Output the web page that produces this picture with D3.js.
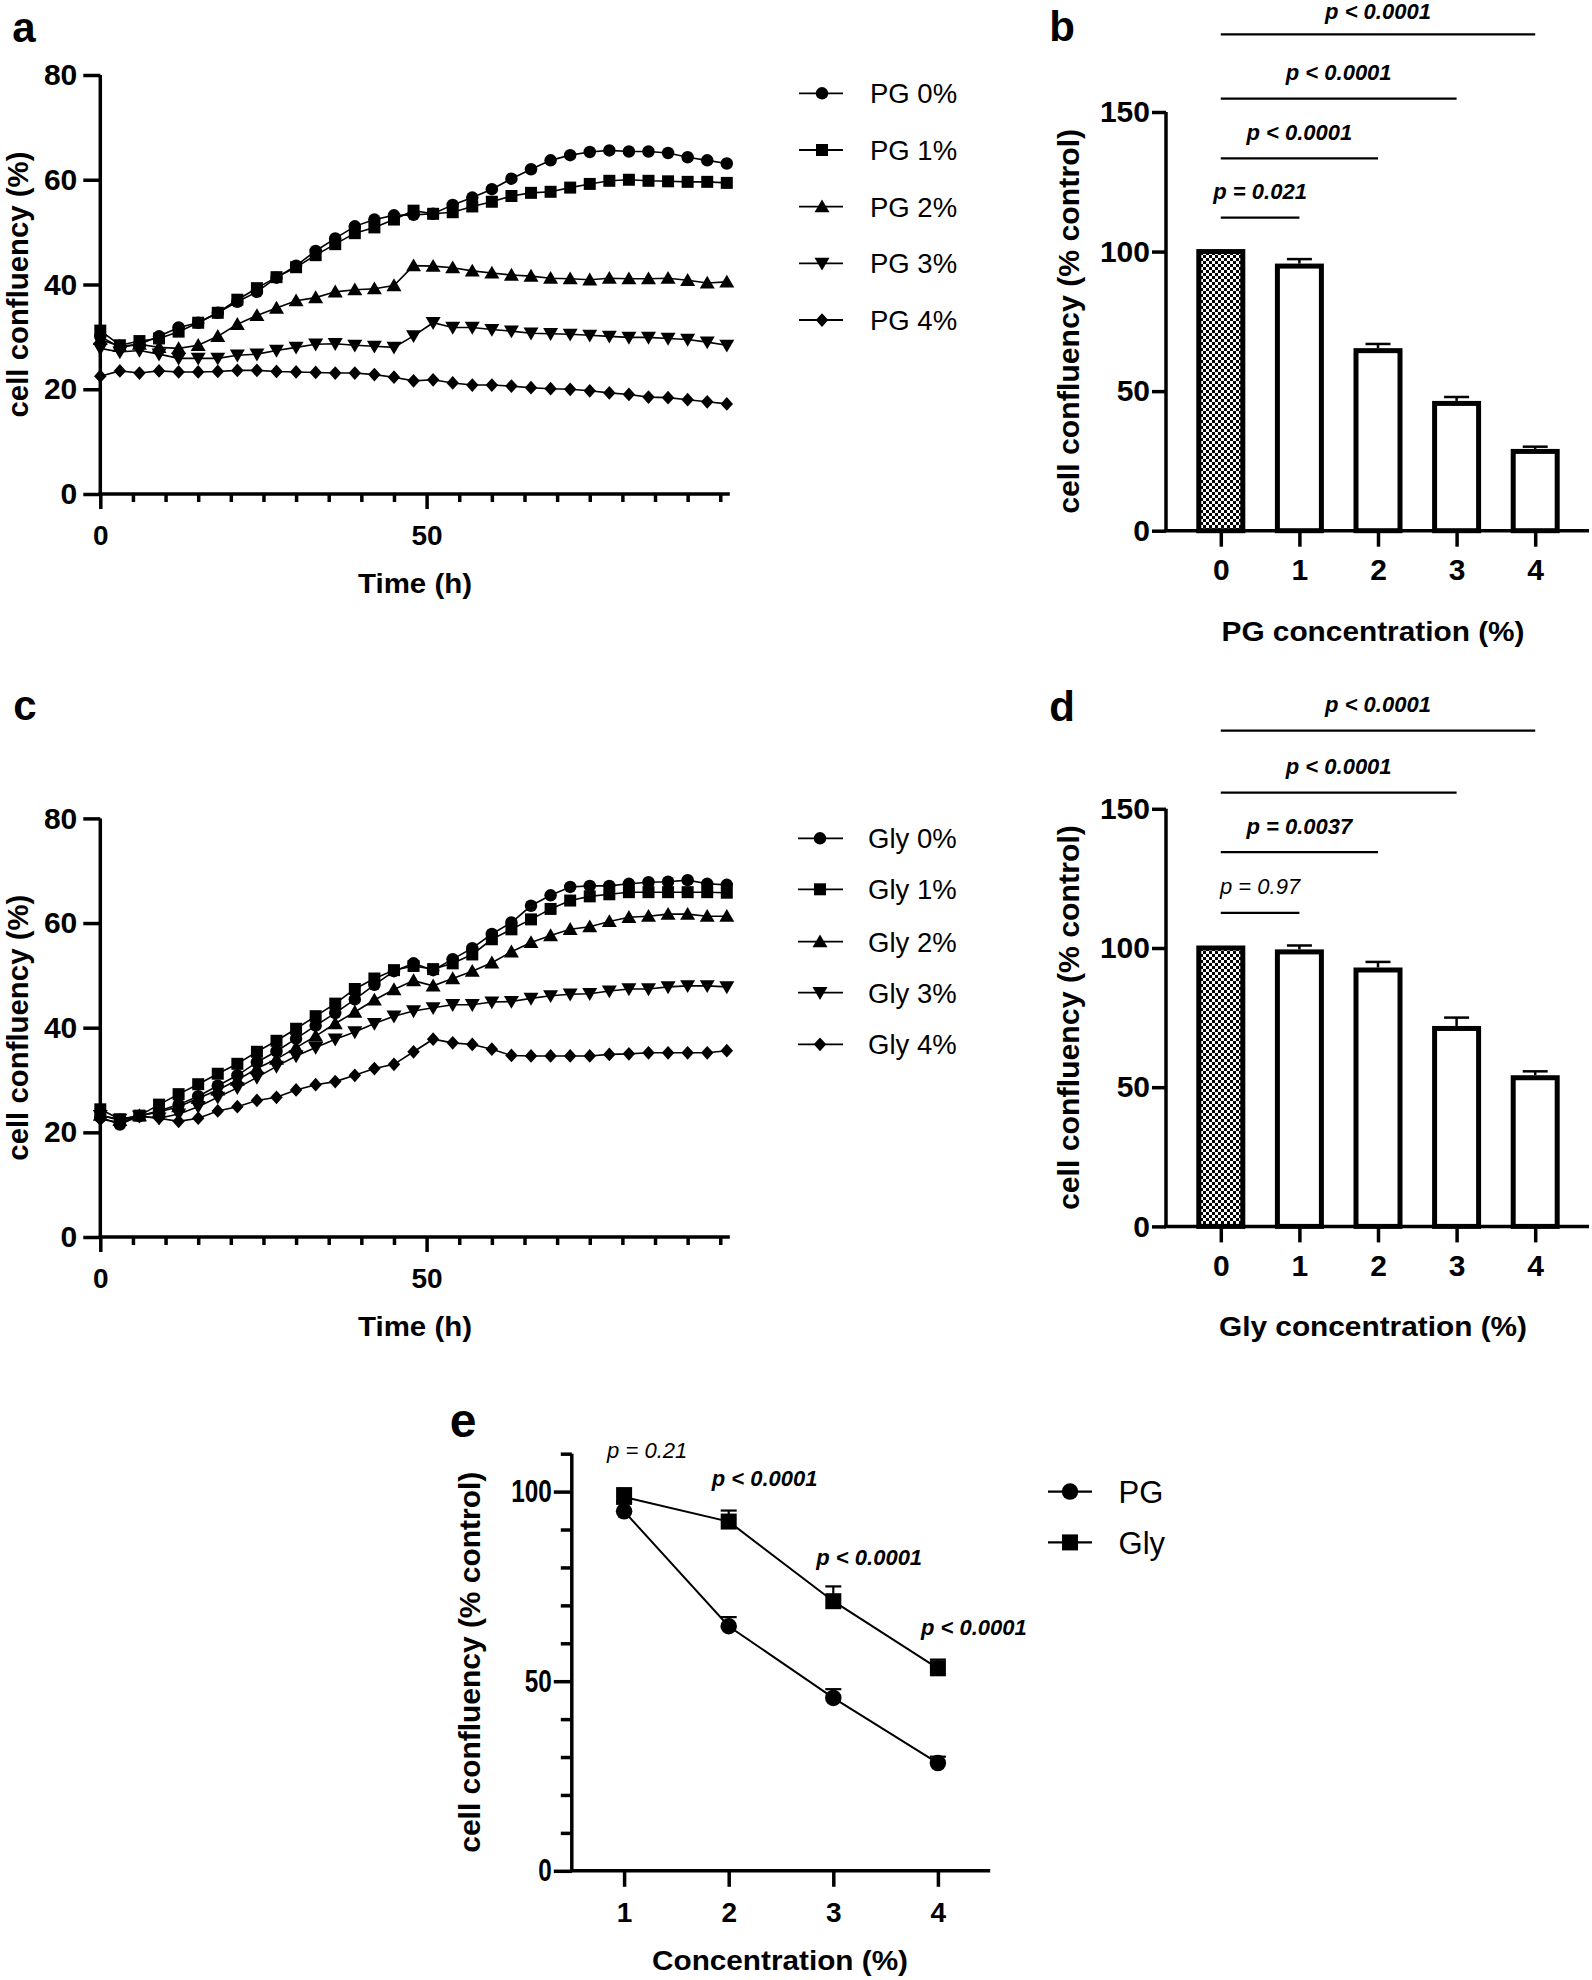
<!DOCTYPE html>
<html><head><meta charset="utf-8">
<script src="https://cdn.jsdelivr.net/npm/d3@7/dist/d3.min.js"></script>
<style>
html,body{margin:0;padding:0;background:#fff;}
svg{display:block;}
</style></head>
<body>
<svg id="fig" width="1592" height="1980" xmlns="http://www.w3.org/2000/svg"></svg>
<script>
// ================= DATA =================
const timeHours = [0,3,6,9,12,15,18,21,24,27,30,33,36,39,42,45,48,51,54,57,60,63,66,69,72,75,78,81,84,87,90,93,96];
const pgLabels  = ["PG 0%","PG 1%","PG 2%","PG 3%","PG 4%"];
const glyLabels = ["Gly 0%","Gly 1%","Gly 2%","Gly 3%","Gly 4%"];

const pg0 = [30.1,28.0,28.6,30.1,31.8,32.7,34.6,36.7,38.6,41.3,43.6,46.4,48.8,51.1,52.4,53.2,53.3,53.5,55.2,56.6,58.2,60.2,62.0,63.7,64.7,65.3,65.6,65.4,65.4,65.1,64.3,63.7,63.1];
const pg1 = [31.2,28.4,29.2,29.7,31.0,32.7,34.6,37.1,39.3,41.4,43.3,45.6,47.7,49.8,50.9,52.4,54.1,53.5,53.8,54.9,55.8,56.9,57.5,57.7,58.5,59.2,59.8,60.0,59.8,59.7,59.6,59.6,59.4];
const pg2 = [29.5,28.2,28.6,28.0,27.8,28.4,30.1,32.4,34.1,35.5,36.9,37.5,38.6,39.0,39.2,39.8,43.6,43.5,43.2,42.6,42.2,41.8,41.6,41.2,41.1,40.9,41.2,41.1,41.1,41.2,40.8,40.3,40.5];
const pg3 = [27.8,27.1,27.4,26.7,25.9,25.9,25.9,26.5,26.7,27.4,28.0,28.6,28.7,28.4,28.2,28.0,30.2,32.7,31.8,31.8,31.4,31.1,30.7,30.6,30.5,30.3,30.1,29.9,29.9,29.7,29.5,29.0,28.4];
const pg4 = [22.5,23.5,23.1,23.5,23.3,23.3,23.4,23.6,23.6,23.4,23.3,23.2,23.1,23.1,22.8,22.3,21.6,21.8,21.2,20.8,20.8,20.6,20.3,20.1,20.0,19.7,19.3,19.0,18.5,18.4,18.0,17.6,17.2];

const gly0 = [22.9,21.5,23.1,24.1,25.3,26.9,28.9,30.9,33.4,35.5,37.9,40.4,42.8,45.4,48.2,50.8,52.3,51.0,53.1,55.2,57.9,60.1,63.3,65.3,66.9,67.1,67.1,67.5,67.8,67.9,68.2,67.5,67.3];
const gly1 = [24.4,22.5,23.2,25.3,27.3,29.2,31.2,33.1,35.4,37.5,39.8,42.2,44.6,47.4,49.4,51.0,51.8,51.2,52.3,54.0,56.9,58.8,60.7,62.7,64.3,65.1,65.5,65.9,65.9,65.9,65.9,65.9,65.8];
const gly2 = [23.3,22.3,23.2,23.9,24.9,26.5,28.1,30.0,32.2,34.0,36.2,38.4,40.8,43.0,45.3,47.3,49.0,48.0,49.4,50.8,52.4,54.5,56.3,57.6,58.8,59.3,60.3,61.1,61.3,61.7,61.7,61.3,61.3];
const gly3 = [23.2,22.5,23.1,22.7,23.5,24.9,26.7,28.5,30.5,32.6,34.6,36.2,37.8,39.2,40.8,42.2,43.2,43.8,44.4,44.4,44.9,45.0,45.6,46.1,46.4,46.5,47.0,47.4,47.4,47.8,48.0,48.0,47.8];
const gly4 = [22.5,21.9,23.1,22.7,22.1,22.7,24.1,24.9,26.1,26.7,28.1,29.1,29.7,30.9,32.2,33.0,35.4,37.8,37.1,36.8,35.9,34.7,34.6,34.6,34.6,34.6,34.9,35.0,35.2,35.2,35.2,35.2,35.6];

const concCategories = ["0","1","2","3","4"];
const pgMeans  = [100, 94.8, 64.5, 45.6, 28.4];
const pgErr    = [0, 2.5, 2.4, 2.3, 1.7];
const glyMeans = [100, 98.6, 92.1, 71.1, 53.4];
const glyErr   = [0, 2.3, 2.9, 3.9, 2.3];
const pgPvals  = ["p = 0.021","p < 0.0001","p < 0.0001","p < 0.0001"];
const glyPvals = ["p = 0.97","p = 0.0037","p < 0.0001","p < 0.0001"];

const cmpConc   = [1,2,3,4];
const cmpPvals  = ["p = 0.21","p < 0.0001","p < 0.0001","p < 0.0001"];
const cmpLabels = ["PG","Gly"];

const timeYTicks = [0,20,40,60,80];
const timeXTicks = [0,50];
const barYTicks  = [0,50,100,150];
const cmpYTicks  = [0,50,100];

// ================= DRAWING =================
const svg = d3.select('#fig');
const FONT = '"Liberation Sans", Arial, Helvetica, sans-serif';
const AXW = 3.5;

const shapes = {
  circle: s => { const r = s/2; return `M${-r},0A${r},${r} 0 1,0 ${r},0A${r},${r} 0 1,0 ${-r},0Z`; },
  square: s => `M${-s/2},${-s/2}H${s/2}V${s/2}H${-s/2}Z`,
  up: s => `M0,${-0.58*s}L${0.6*s},${0.45*s}L${-0.6*s},${0.45*s}Z`,
  down: s => `M0,${0.58*s}L${0.6*s},${-0.45*s}L${-0.6*s},${-0.45*s}Z`,
  diamond: s => `M0,${-0.55*s}L${0.5*s},0L0,${0.55*s}L${-0.5*s},0Z`
};
const timeShapes = [['circle',12.5],['square',12],['up',12.5],['down',12.5],['diamond',12.5]];

function txt(parent, x, y, str, size, opts = {}) {
  const t = parent.append('text').attr('x', x).attr('y', y).text(str)
    .attr('font-family', FONT).attr('font-size', size)
    .attr('font-weight', opts.bold === false ? 'normal' : 'bold')
    .attr('font-style', opts.italic ? 'italic' : 'normal')
    .attr('text-anchor', opts.anchor || 'middle').attr('fill', '#000');
  if (opts.len) t.attr('textLength', opts.len).attr('lengthAdjust', 'spacingAndGlyphs');
  return t;
}
function vtxt(parent, x, y, str, size, len) {
  return txt(parent, 0, 0, str, size, { len }).attr('transform', `translate(${x},${y}) rotate(-90)`);
}
function seg(parent, x1, y1, x2, y2, w) {
  return parent.append('line').attr('x1', x1).attr('y1', y1).attr('x2', x2).attr('y2', y2)
    .attr('stroke', '#000').attr('stroke-width', w);
}
function styleAxis(g, size) {
  g.attr('font-family', FONT).attr('font-size', size).attr('font-weight', 'bold');
  g.select('.domain').remove();
  g.selectAll('.tick line').attr('stroke', '#000').attr('stroke-width', AXW);
  g.selectAll('.tick text').attr('fill', '#000');
}
function isSig(p) { return p.includes('<') || parseFloat(p.split('=')[1]) < 0.05; }

// checkerboard pattern for control bar
const defs = svg.append('defs');
const pat = defs.append('pattern').attr('id', 'checker').attr('patternUnits', 'userSpaceOnUse')
  .attr('width', 6).attr('height', 6);
pat.append('rect').attr('width', 6).attr('height', 6).attr('fill', '#fff');
pat.append('rect').attr('width', 3).attr('height', 3).attr('fill', '#000');
pat.append('rect').attr('x', 3).attr('y', 3).attr('width', 3).attr('height', 3).attr('fill', '#000');

// ---------- time-course panels ----------
function timePanel(series, labels, cfg) {
  const g = svg.append('g');
  const x = d3.scaleLinear().domain([0, 96]).range([100.3, 726.8]);
  const y = d3.scaleLinear().domain([0, 80]).range([cfg.yBottom, cfg.yTop]);
  const ax0 = x(0);

  const gm = g.append('g').attr('transform', `translate(0,${y(0)})`)
    .call(d3.axisBottom(x).tickValues(d3.range(0, 96, 5).filter(v => v % 50 !== 0)).tickSize(8).tickFormat(''));
  styleAxis(gm, 28);
  const gx = g.append('g').attr('transform', `translate(0,${y(0)})`)
    .call(d3.axisBottom(x).tickValues(timeXTicks).tickSize(15).tickPadding(16));
  styleAxis(gx, 28);
  const gy = g.append('g').attr('transform', `translate(${ax0},0)`)
    .call(d3.axisLeft(y).tickValues(timeYTicks).tickSize(17).tickPadding(6));
  styleAxis(gy, 30);
  seg(g, ax0, y(0) + AXW / 2, ax0, y(80), AXW);
  seg(g, ax0 - AXW / 2, y(0), x(96) + 3, y(0), AXW);

  const line = d3.line().x((d, i) => x(timeHours[i])).y(d => y(d));
  series.forEach(s => {
    g.append('path').attr('d', line(s)).attr('fill', 'none').attr('stroke', '#000').attr('stroke-width', 1.6);
  });
  series.forEach((s, k) => {
    const [sh, sz] = timeShapes[k];
    g.append('g').selectAll('path').data(s).join('path')
      .attr('transform', (d, i) => `translate(${x(timeHours[i])},${y(d)})`)
      .attr('d', shapes[sh](sz)).attr('fill', '#000');
  });

  // axis titles
  vtxt(g, 28, (y(0) + y(80)) / 2, 'cell confluency (%)', 29, 266);
  txt(g, 415, y(0) + 99, 'Time (h)', 28, { len: 114 });
  txt(g, cfg.letterX, cfg.letterY, cfg.letter, 42);

  // legend
  labels.forEach((lab, k) => {
    const ly = cfg.legY[k];
    seg(g, cfg.legX1, ly, cfg.legX2, ly, 1.8);
    const [sh, sz] = timeShapes[k];
    g.append('path').attr('transform', `translate(${cfg.legM},${ly})`).attr('d', shapes[sh](sz)).attr('fill', '#000');
    txt(g, cfg.legT, ly + 0.36 * cfg.legFont, lab, cfg.legFont, { bold: false, anchor: 'start' });
  });
}

timePanel([pg0, pg1, pg2, pg3, pg4], pgLabels, {
  yBottom: 494, yTop: 75, letter: 'a', letterX: 24, letterY: 42,
  legX1: 799, legX2: 843, legM: 822, legT: 870, legY: [93.3, 150, 206.7, 263.3, 320], legFont: 27.5
});
timePanel([gly0, gly1, gly2, gly3, gly4], glyLabels, {
  yBottom: 1237, yTop: 818.4, letter: 'c', letterX: 25, letterY: 720,
  legX1: 798, legX2: 843, legM: 820, legT: 868, legY: [838.3, 889.3, 941.7, 992.7, 1044.3], legFont: 27.5
});

// ---------- bar panels ----------
function barPanel(means, errs, pvals, cfg) {
  const g = svg.append('g');
  const x = d3.scalePoint().domain(concCategories).range([1220.8, 1220.8 + 4 * 78.6]);
  const y = d3.scaleLinear().domain([0, 150]).range([cfg.yBottom, cfg.yTop]);
  const ax0 = 1166;
  const bw = 44;

  g.append('g').selectAll('rect').data(means).join('rect')
    .attr('x', (d, i) => x(concCategories[i]) - bw / 2).attr('y', d => y(d))
    .attr('width', bw).attr('height', d => y(0) - y(d))
    .attr('fill', (d, i) => i === 0 ? 'url(#checker)' : '#fff')
    .attr('stroke', '#000').attr('stroke-width', 5);
  means.forEach((m, i) => {
    if (!errs[i]) return;
    const cx = x(concCategories[i]);
    seg(g, cx, y(m) - 2.5, cx, y(m + errs[i]), 2.5);
    seg(g, cx - 12.5, y(m + errs[i]), cx + 12.5, y(m + errs[i]), 2.5);
  });

  const gy = g.append('g').attr('transform', `translate(${ax0},0)`)
    .call(d3.axisLeft(y).tickValues(barYTicks).tickSize(14).tickPadding(2));
  styleAxis(gy, 30);
  const gx = g.append('g').attr('transform', `translate(0,${y(0)})`)
    .call(d3.axisBottom(x).tickSize(16).tickPadding(12));
  styleAxis(gx, 30);
  seg(g, ax0, y(0), ax0, y(150), AXW);
  seg(g, ax0 - AXW / 2, y(0), 1589, y(0), AXW);

  pvals.forEach((p, k) => {
    const x1 = x(concCategories[0]), x2 = x(concCategories[k + 1]);
    const by = cfg.brY[k];
    seg(g, x1, by, x2, by, 2.2);
    txt(g, (x1 + x2) / 2, Math.max(by - 18.5, 19), p, 22, { italic: true, bold: isSig(p) });
  });

  vtxt(g, 1079, (y(0) + y(150)) / 2, 'cell confluency (% control)', 30, 385);
  txt(g, 1373, y(0) + 110, cfg.xTitle, 28, { len: cfg.xTitleLen });
  txt(g, 1062, cfg.letterY, cfg.letter, 42);
}

barPanel(pgMeans, pgErr, pgPvals, {
  yBottom: 530.7, yTop: 112, brY: [217.7, 158.4, 98.7, 34.4],
  xTitle: 'PG concentration (%)', xTitleLen: 303, letter: 'b', letterY: 41
});
barPanel(glyMeans, glyErr, glyPvals, {
  yBottom: 1226.4, yTop: 808.8, brY: [912.9, 852.2, 792.7, 730.7],
  xTitle: 'Gly concentration (%)', xTitleLen: 308, letter: 'd', letterY: 721
});

// ---------- panel e ----------
(function () {
  const g = svg.append('g');
  const x = d3.scaleLinear().domain([0.5, 4.5]).range([571.8, 990.2]);
  const y = d3.scaleLinear().domain([0, 110]).range([1870.8, 1870.8 - 110 * 3.792]);
  const ax0 = x(0.5);

  const gminor = g.append('g').attr('transform', `translate(${ax0},0)`)
    .call(d3.axisLeft(y).tickValues(d3.range(10, 111, 10).filter(v => v % 50 !== 0)).tickSize(11).tickFormat(''));
  styleAxis(gminor, 31);
  const gy = g.append('g').attr('transform', `translate(${ax0},0)`)
    .call(d3.axisLeft(y).tickValues(cmpYTicks).tickSize(18).tickPadding(2));
  styleAxis(gy, 31);
  gy.selectAll('.tick text').attr('textLength', d => String(d).length * 13.5).attr('lengthAdjust', 'spacingAndGlyphs');
  const gx = g.append('g').attr('transform', `translate(0,${y(0)})`)
    .call(d3.axisBottom(x).tickValues(cmpConc).tickFormat(d3.format('d')).tickSize(16).tickPadding(15));
  styleAxis(gx, 28);
  seg(g, ax0, y(0), ax0, y(110), AXW);
  seg(g, ax0 - AXW / 2, y(0), x(4.5), y(0), AXW);

  const pgVals = pgMeans.slice(1), glyVals = glyMeans.slice(1), glyE = glyErr.slice(1), pgE = pgErr.slice(1);
  const line = d3.line().x((d, i) => x(cmpConc[i])).y(d => y(d));

  [[pgVals, pgE], [glyVals, glyE]].forEach(([vals, es]) => {
    vals.forEach((v, i) => {
      const cx = x(cmpConc[i]);
      seg(g, cx, y(v), cx, y(v + es[i]), 2.2);
      seg(g, cx - 8, y(v + es[i]), cx + 8, y(v + es[i]), 2.2);
    });
  });
  g.append('path').attr('d', line(pgVals)).attr('fill', 'none').attr('stroke', '#000').attr('stroke-width', 2);
  g.append('path').attr('d', line(glyVals)).attr('fill', 'none').attr('stroke', '#000').attr('stroke-width', 2);
  g.append('g').selectAll('path').data(pgVals).join('path')
    .attr('transform', (d, i) => `translate(${x(cmpConc[i])},${y(d)})`).attr('d', shapes.circle(16.5)).attr('fill', '#000');
  g.append('g').selectAll('path').data(glyVals).join('path')
    .attr('transform', (d, i) => `translate(${x(cmpConc[i])},${y(d)})`).attr('d', shapes.square(16)).attr('fill', '#000');

  const pBase = [1457.7, 1486, 1565, 1634.5];
  cmpPvals.forEach((p, k) => {
    txt(g, x(cmpConc[k]) - 17, pBase[k], p, 22, { italic: true, bold: isSig(p), anchor: 'start' });
  });

  const legY = [1491.6, 1542.4];
  cmpLabels.forEach((lab, k) => {
    seg(g, 1048, legY[k], 1092, legY[k], 2.2);
    g.append('path').attr('transform', `translate(1070,${legY[k]})`)
      .attr('d', k === 0 ? shapes.circle(16.5) : shapes.square(16)).attr('fill', '#000');
    txt(g, 1118.6, legY[k] + 0.36 * 31, lab, 31, { bold: false, anchor: 'start' });
  });

  vtxt(g, 480, (y(0) + y(110)) / 2, 'cell confluency (% control)', 30, 381);
  txt(g, 780, 1970, 'Concentration (%)', 28, { len: 256 });
  txt(g, 463, 1437, 'e', 48);
})();
</script>
</body></html>
